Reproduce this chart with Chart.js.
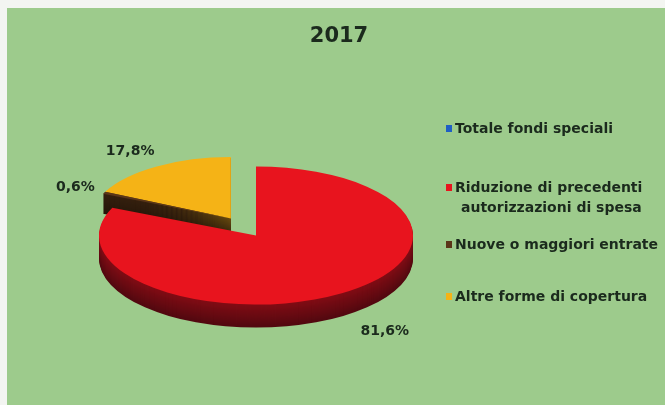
<!DOCTYPE html>
<html>
<head>
<meta charset="utf-8">
<title>2017</title>
<script src="https://cdn.jsdelivr.net/npm/chart.js@4.4.1/dist/chart.umd.min.js"></script>
<style>
  html, body { margin: 0; padding: 0; background: #f3f5f1; }
  #riquadro { position: absolute; left: 7px; top: 8px; width: 658px; height: 397px; background: #9dcb8c; }
  #grafico { position: absolute; left: 0; top: 0; }
  #titolo { position: absolute; left: 0; top: 15px; width: 664px; text-align: center;
            font: bold 21px "DejaVu Sans", sans-serif; color: #1b2a1d; }
  #legenda { position: absolute; left: 439px; top: 110px; margin: 0; padding: 0; list-style: none;
             font: bold 14px "DejaVu Sans", sans-serif; color: #1b2a1d; }
  #legenda li { display: flex; align-items: flex-start; line-height: 20px; }
  #legenda li:nth-child(2) { margin-top: 39px; }
  #legenda li:nth-child(3) { margin-top: 17px; }
  #legenda li:nth-child(4) { margin-top: 32px; }
  #legenda .quadro { width: 6px; height: 7px; margin: 7px 3px 0 0; flex: none; }
  #legenda .testo { max-width: 218px; padding-left: 6px; text-indent: -6px; }
</style>
</head>
<body>
<div id="riquadro">
  <canvas id="grafico" width="658" height="397"></canvas>
  <div id="titolo">2017</div>
  <ul id="legenda"></ul>
</div>
<script>
// composizione della copertura 2017 (valori in %)
var categorie = ["Totale fondi speciali", "Riduzione di precedenti autorizzazioni di spesa", "Nuove o maggiori entrate", "Altre forme di copertura"];
var percentuali = [0, 81.6, 0.6, 17.8];

// colori delle fette e dei fianchi
var colori = ["#1f5fc4", "#e8141e", "#5b3619", "#f5b316"];
var coloriLato = ["#123a7a", "#520910", "#24160a", "#2a1c0c"];
// fette staccate dal centro (px): quelle vicine si staccano insieme
var esplosione = [0, 0, 46, 46];
var inclinazione = 0.44;   // schiacciamento verticale della torta
var spessore = 23;         // altezza del disco
var prospettiva = 0.89;    // le fette staccate verso il fondo sembrano più piccole

function mezzo(a) {
  return (a.startAngle + a.endAngle) / 2;
}

// direzione di stacco: metà del gruppo di fette staccate contigue
function direzione(archi, i) {
  var ini = archi[i].startAngle, fin = archi[i].endAngle;
  for (var j = i - 1; j >= 0 && esplosione[j]; j--) ini = archi[j].startAngle;
  for (var k = i + 1; k < archi.length && esplosione[k]; k++) fin = archi[k].endAngle;
  return (ini + fin) / 2;
}

// vertice, raggi e spessore della fetta sullo schermo
function geometria(archi, i) {
  var a = archi[i];
  var d = direzione(archi, i);
  var p = esplosione[i] ? prospettiva : 1;
  return {
    x: a.x + Math.cos(d) * esplosione[i],
    y: a.y + Math.sin(d) * esplosione[i] * inclinazione,
    p: p,
    rx: a.outerRadius * p,
    ry: a.outerRadius * inclinazione * p,
    h: spessore * p
  };
}

// porta il cerchio della fetta sull'ellisse (staccata e in prospettiva)
function trasforma(ctx, a, g, dy) {
  ctx.translate(g.x, g.y + dy);
  ctx.scale(g.p, g.p * inclinazione);
  ctx.translate(-a.x, -a.y);
}

function hex(c) {
  return [parseInt(c.substr(1, 2), 16), parseInt(c.substr(3, 2), 16), parseInt(c.substr(5, 2), 16)];
}

// sfuma dal colore della fetta al colore scuro del fianco
function mescola(c1, c2, t) {
  var a = hex(c1), b = hex(c2);
  return "rgb(" + a.map(function(v, k) { return Math.round(v + (b[k] - v) * t); }).join(",") + ")";
}

// torta "3D": prima i fianchi, poi la faccia superiore, dalle fette dietro a quelle davanti
var torta3d = {
  id: 'torta3d',
  beforeDatasetsDraw: function(chart) {
    var ctx = chart.ctx;
    var archi = chart.getDatasetMeta(0).data;
    var ordine = archi.map(function(a, i) { return i; });
    ordine.sort(function(i, j) { return Math.sin(mezzo(archi[i])) - Math.sin(mezzo(archi[j])); });
    ordine.forEach(function(i) {
      var a = archi[i];
      if (a.endAngle - a.startAngle <= 0) return;
      var g = geometria(archi, i);
      for (var d = Math.round(g.h); d > 0; d--) {
        ctx.save();
        trasforma(ctx, a, g, d);
        ctx.beginPath();
        ctx.moveTo(a.x, a.y);
        ctx.arc(a.x, a.y, a.outerRadius, a.startAngle, a.endAngle);
        ctx.closePath();
        ctx.fillStyle = mescola(colori[i], coloriLato[i], 0.68 + 0.32 * d / g.h);
        ctx.fill();
        ctx.restore();
      }
      ctx.save();
      trasforma(ctx, a, g, 0);
      a.draw(ctx);
      ctx.restore();
    });
    return false;
  }
};

// etichette percentuali fuori dal bordo
var etichette = {
  id: 'etichette',
  afterDraw: function(chart) {
    var ctx = chart.ctx;
    var archi = chart.getDatasetMeta(0).data;
    ctx.save();
    ctx.font = 'bold 14px "DejaVu Sans", sans-serif';
    ctx.fillStyle = '#1b2a1d';
    ctx.textAlign = 'center';
    ctx.textBaseline = 'middle';
    archi.forEach(function(a, i) {
      if (!percentuali[i]) return;
      var m = mezzo(a);
      var g = geometria(archi, i);
      var dx = Math.cos(m) * g.rx, dy = Math.sin(m) * g.ry;
      var ex = g.x + dx;
      var ey = g.y + dy + (dy > 0 ? g.h : 0);
      var l = Math.sqrt(dx * dx + dy * dy);
      dx /= l; dy /= l;
      var testo = percentuali[i].toFixed(1).replace('.', ',') + '%';
      var w = ctx.measureText(testo).width;
      ctx.fillText(testo, ex + dx * (18 + w / 2) + 8, ey + dy * 27);
    });
    ctx.restore();
  }
};

var chart = new Chart("grafico", {
  type: "pie",
  data: {
    labels: categorie,
    datasets: [{
      data: percentuali,
      backgroundColor: colori,
      borderWidth: 0,
      radius: 157
    }]
  },
  options: {
    responsive: false,
    animation: false,
    layout: { padding: { left: 0, right: 160, top: 58, bottom: 0 } },
    plugins: {
      legend: { display: false },
      tooltip: { enabled: false },
      title: { display: false }
    }
  },
  plugins: [torta3d, etichette]
});

// legenda
var ul = document.getElementById("legenda");
categorie.forEach(function(c, i) {
  var li = document.createElement("li");
  var q = document.createElement("span");
  q.className = "quadro";
  q.style.background = colori[i];
  var t = document.createElement("span");
  t.className = "testo";
  t.textContent = c;
  li.appendChild(q);
  li.appendChild(t);
  ul.appendChild(li);
});
</script>
</body>
</html>
